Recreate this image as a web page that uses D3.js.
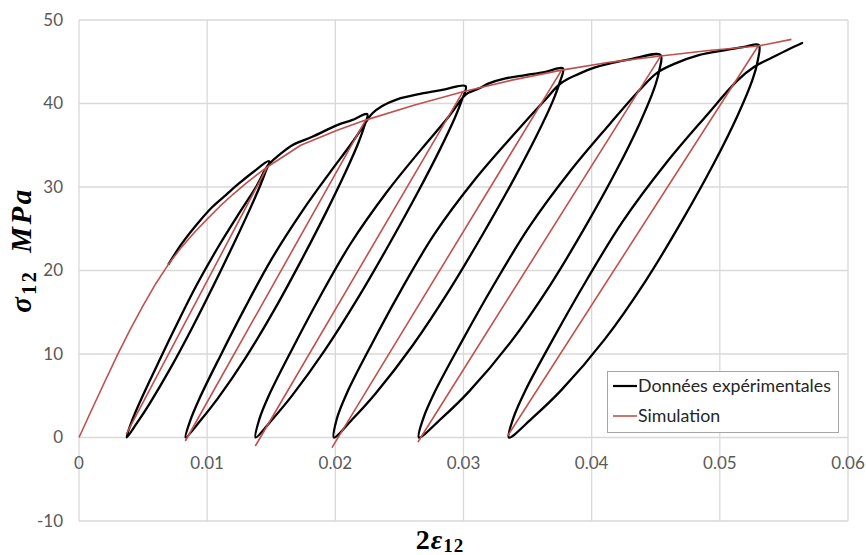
<!DOCTYPE html>
<html>
<head>
<meta charset="utf-8">
<script src="https://cdn.jsdelivr.net/npm/d3@7"></script>
<style>
  html, body { margin: 0; padding: 0; background: #ffffff; }
  svg { display: block; }
</style>
</head>
<body>
<svg id="chart" width="866" height="555"></svg>
<script>
// ---------------- data ----------------
const xTicks = [0, 0.01, 0.02, 0.03, 0.04, 0.05, 0.06];
const xTickLabels = ["0", "0.01", "0.02", "0.03", "0.04", "0.05", "0.06"];
const yTicks = [-10, 0, 10, 20, 30, 40, 50];
const yTickLabels = ["-10", "0", "10", "20", "30", "40", "50"];
const seriesNames = ["Données expérimentales", "Simulation"];

// experimental cyclic curve (2*eps12, sigma12 in MPa), in drawing order
// (its first loading below ~20 MPa lies hidden under the simulation curve)
const expStrain = [
  // first loading
  0.007, 0.00806, 0.0094, 0.0104, 0.0115, 0.01248, 0.0136, 0.01482,
  // unload 1
  0.014545, 0.014123, 0.013272, 0.012066, 0.010493, 0.008863, 0.007128, 0.005474, 0.004487, 0.00372,
  // reload 1
  0.004051, 0.004674, 0.005977, 0.007529, 0.009159, 0.010999, 0.012612, 0.013856, 0.01475, 0.0156, 0.01664, 0.0182, 0.02015, 0.02129, 0.02249,
  // unload 2
  0.02224, 0.021784, 0.020787, 0.019326, 0.017374, 0.015315, 0.013057, 0.010818, 0.009429, 0.00832,
  // reload 2
  0.008657, 0.009391, 0.010998, 0.012936, 0.015002, 0.01742, 0.019587, 0.021272, 0.02236, 0.022878, 0.023658, 0.024828, 0.026779, 0.028549, 0.030164,
  // unload 3
  0.029865, 0.029327, 0.028164, 0.026465, 0.024201, 0.021817, 0.019212, 0.016638, 0.015047, 0.01378,
  // reload 3
  0.014053, 0.014822, 0.016609, 0.018791, 0.021162, 0.024048, 0.0267, 0.028775, 0.03, 0.030343, 0.031279, 0.031981, 0.033284, 0.034844, 0.036404, 0.037754,
  // unload 4
  0.037488, 0.036951, 0.035737, 0.03393, 0.031494, 0.028908, 0.026042, 0.023158, 0.021346, 0.019891,
  // reload 4
  0.02011, 0.020897, 0.022798, 0.02514, 0.027715, 0.03092, 0.033906, 0.036251, 0.03762, 0.039, 0.0402, 0.04316, 0.045374,
  // unload 5
  0.045275, 0.044852, 0.043728, 0.041957, 0.039484, 0.036792, 0.033692, 0.030421, 0.028283, 0.026521,
  // reload 5
  0.026865, 0.027773, 0.02985, 0.032378, 0.035113, 0.038408, 0.041419, 0.043772, 0.045125, 0.046544, 0.048362, 0.050445, 0.052005, 0.053042,
  // unload 6
  0.052955, 0.052528, 0.051379, 0.049559, 0.047009, 0.044228, 0.041014, 0.037613, 0.035382, 0.033541,
  // final reload
  0.033893, 0.034829, 0.036973, 0.039587, 0.042414, 0.045827, 0.048947, 0.051385, 0.052691, 0.05408, 0.05538, 0.05642
];
const expStress = [
  20.8, 23.3, 25.9, 27.6, 29.1, 30.42, 31.8, 33.09,
  31.776, 30.121, 27.142, 23.17, 18.205, 13.24, 8.275, 3.972, 1.655, 0,
  1.655, 3.972, 8.275, 13.24, 18.205, 23.17, 27.142, 30.121, 32.6, 33.81, 35.01, 36.01, 37.41, 38.0, 38.73,
  37.181, 35.244, 31.759, 27.111, 21.302, 15.492, 9.683, 4.648, 1.937, 0,
  1.937, 4.648, 9.683, 15.492, 21.302, 27.111, 31.759, 35.244, 37.7, 38.8, 39.7, 40.5, 41.2, 41.7, 42.08,
  40.397, 38.293, 34.506, 29.456, 23.144, 16.832, 10.52, 5.05, 2.104, 0,
  2.104, 5.05, 10.52, 16.832, 23.144, 29.456, 34.506, 38.293, 40.8, 41.25, 41.85, 42.41, 43.01, 43.4, 43.8, 44.21,
  42.442, 40.231, 36.252, 30.947, 24.316, 17.684, 11.053, 5.305, 2.211, 0,
  2.211, 5.305, 11.053, 17.684, 24.316, 30.947, 36.252, 40.231, 42.45, 43.55, 44.3, 45.35, 45.8,
  43.968, 41.678, 37.556, 32.06, 25.19, 18.32, 11.45, 5.496, 2.29, 0,
  2.29, 5.496, 11.45, 18.32, 25.19, 32.06, 37.556, 41.678, 43.7, 44.81, 45.8, 46.4, 46.82, 47.0,
  45.12, 42.77, 38.54, 32.9, 25.85, 18.8, 11.75, 5.64, 2.35, 0,
  2.35, 5.64, 11.75, 18.8, 25.85, 32.9, 38.54, 42.77, 44.4, 45.5, 46.5, 47.25
];

// simulation (elastic unloading / reloading on the same line)
const simStrain = [
  0, 0.001, 0.002, 0.003, 0.004, 0.005, 0.006, 0.007, 0.008, 0.009, 0.01, 0.011, 0.012, 0.013, 0.014, 0.01469,
  0.00372, 0.01469, 0.0173, 0.02015, 0.02236,
  0.00832, 0.02236, 0.02613, 0.02995,
  0.01378, 0.02995, 0.03378, 0.03765,
  0.01976, 0.03765, 0.0415, 0.04538,
  0.02647, 0.04538, 0.04914, 0.05299,
  0.03346, 0.05299, 0.05559
];
const simStress = [
  0, 3.35, 6.65, 9.9, 12.95, 15.8, 18.45, 20.8, 22.8, 24.55, 26.15, 27.7, 29.1, 30.4, 31.6, 32.4,
  0.48, 32.4, 35.0, 36.8, 38.01,
  -0.36, 38.01, 39.8, 41.4,
  -0.96, 41.4, 42.8, 44.0,
  -1.16, 44.0, 44.96, 45.68,
  -0.48, 45.68, 46.34, 46.88,
  0.24, 46.88, 47.68
];

// ---------------- drawing ----------------
const plot = { left: 79, right: 848, top: 20, bottom: 521 };
const svg = d3.select("#chart");

const x = d3.scaleLinear().domain([0, 0.06]).range([plot.left, plot.right]);
const y = d3.scaleLinear().domain([-10, 50]).range([plot.bottom, plot.top]);

const labelFont = "Lato, 'Open Sans', sans-serif";
const gridColor = "#d9d9d9";

// gridlines
const g = svg.append("g");
g.selectAll("line.vg").data(xTicks).enter().append("line")
  .attr("x1", d => x(d)).attr("x2", d => x(d))
  .attr("y1", plot.top).attr("y2", plot.bottom)
  .attr("stroke", gridColor).attr("stroke-width", 1.3);
g.selectAll("line.hg").data(yTicks).enter().append("line")
  .attr("x1", plot.left).attr("x2", plot.right)
  .attr("y1", d => y(d)).attr("y2", d => y(d))
  .attr("stroke", gridColor).attr("stroke-width", 1.3);

// y tick labels
svg.append("g").selectAll("text").data(yTicks).enter().append("text")
  .attr("x", 63).attr("y", d => y(d))
  .attr("dy", "0.35em")
  .attr("text-anchor", "end")
  .attr("font-family", labelFont).attr("font-size", 17)
  .attr("fill", "#595959")
  .text((d, i) => yTickLabels[i]);

// x tick labels (axis crosses at 0)
svg.append("g").selectAll("text").data(xTicks).enter().append("text")
  .attr("x", d => x(d)).attr("y", y(0) + 26)
  .attr("dy", "0.35em")
  .attr("text-anchor", "middle")
  .attr("font-family", labelFont).attr("font-size", 17)
  .attr("fill", "#595959")
  .text((d, i) => xTickLabels[i]);

// curves
const expData = expStrain.map((v, i) => [v, expStress[i]]);
const simData = simStrain.map((v, i) => [v, simStress[i]]);

const expLine = d3.line().x(d => x(d[0])).y(d => y(d[1])).curve(d3.curveCatmullRom.alpha(0.5));
const simLine = d3.line().x(d => x(d[0])).y(d => y(d[1])).curve(d3.curveLinear);

svg.append("path").datum(expData)
  .attr("d", expLine).attr("fill", "none")
  .attr("stroke", "#000000").attr("stroke-width", 2.3)
  .attr("stroke-linejoin", "round").attr("stroke-linecap", "round");

svg.append("path").datum(simData)
  .attr("d", simLine).attr("fill", "none")
  .attr("stroke", "#c0504d").attr("stroke-width", 1.6)
  .attr("stroke-linejoin", "round");

// axis titles
const titleFont = "'Liberation Serif', 'DejaVu Serif', serif";
const xt = svg.append("text")
  .attr("x", 440).attr("y", 549)
  .attr("text-anchor", "middle")
  .attr("font-family", titleFont).attr("font-size", 28).attr("font-weight", "bold")
  .attr("letter-spacing", 1)
  .attr("fill", "#000");
xt.append("tspan").text("2");
xt.append("tspan").attr("font-style", "italic").text("ε");
xt.append("tspan").attr("font-size", 19).attr("dy", 3).text("12");

const yt = svg.append("text")
  .attr("transform", "translate(31,250) rotate(-90)")
  .attr("text-anchor", "middle")
  .attr("font-family", titleFont).attr("font-size", 29).attr("font-weight", "bold")
  .attr("letter-spacing", 2.5)
  .attr("fill", "#000");
yt.append("tspan").attr("font-style", "italic").text("σ");
yt.append("tspan").attr("font-size", 20).attr("dy", 5).text("12");
yt.append("tspan").attr("dy", -5).attr("font-style", "italic").text("\u2002MPa");

// legend
const lg = svg.append("g");
lg.append("rect")
  .attr("x", 607.5).attr("y", 371.5).attr("width", 231).attr("height", 61)
  .attr("fill", "#ffffff").attr("stroke", "#a6a6a6").attr("stroke-width", 1);
const legendColors = ["#000000", "#c0504d"];
const legendW = [2.2, 1.6];
seriesNames.forEach((name, i) => {
  const cy = 386 + i * 30;
  lg.append("line").attr("x1", 613).attr("x2", 637).attr("y1", cy).attr("y2", cy)
    .attr("stroke", legendColors[i]).attr("stroke-width", legendW[i]);
  lg.append("text").attr("x", 638).attr("y", cy).attr("dy", "0.35em")
    .attr("font-family", labelFont).attr("font-size", 17.8)
    .attr("fill", "#262626").text(name);
});
</script>
</body>
</html>
